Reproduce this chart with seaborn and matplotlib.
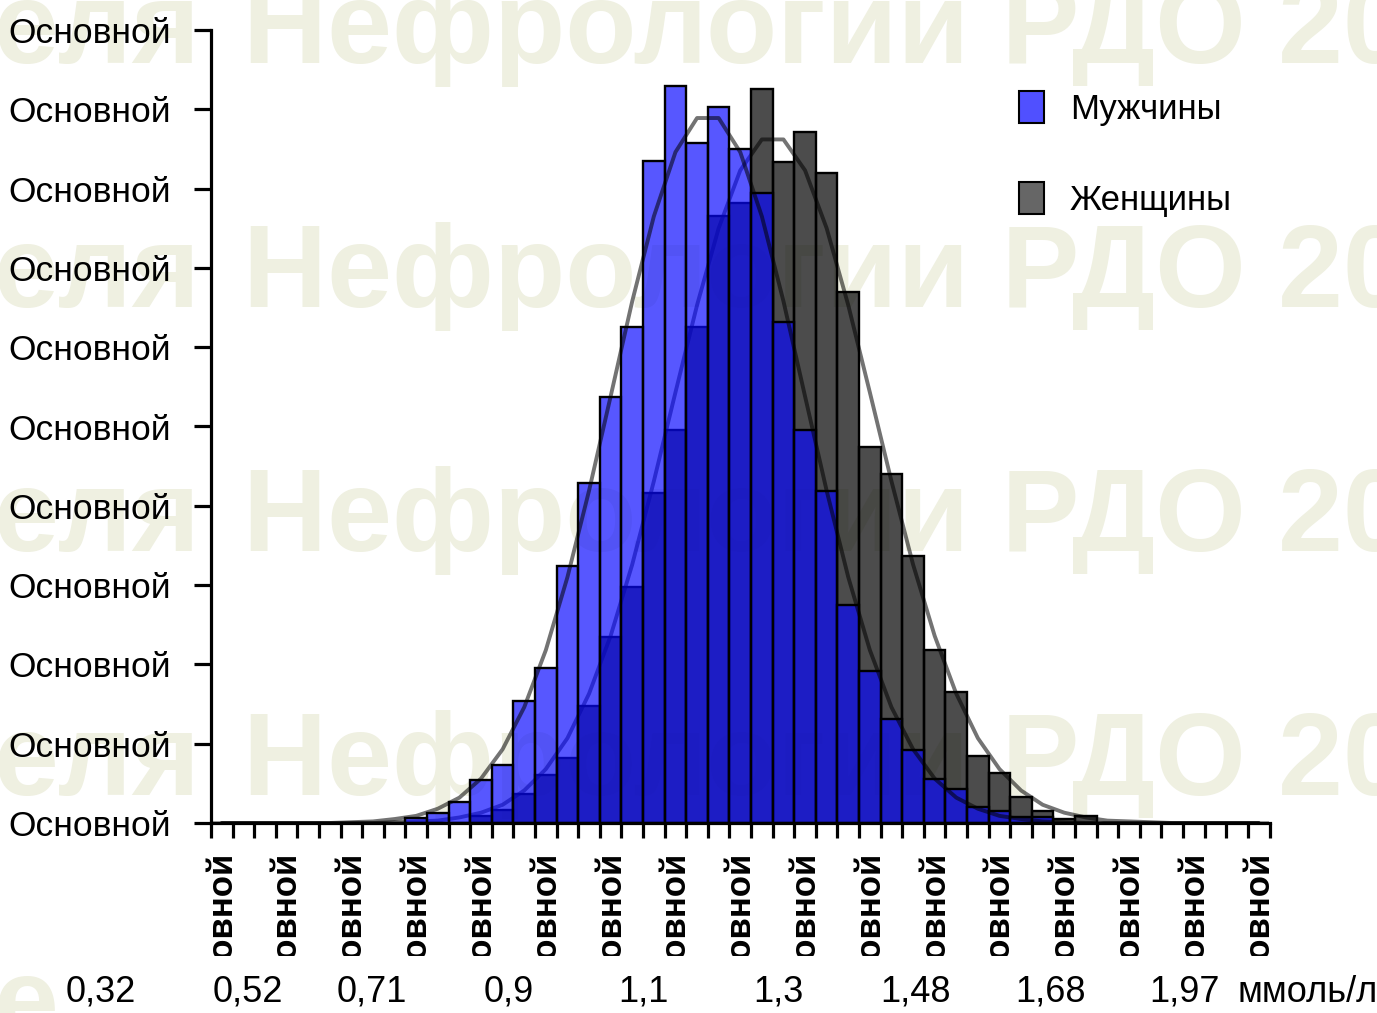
import numpy as np
import pandas as pd
import matplotlib
matplotlib.use('Agg')
import matplotlib.pyplot as plt
from matplotlib.patches import Patch, Rectangle
from matplotlib.transforms import Bbox, TransformedBbox
import seaborn as sns

# ---------- данные (доля пациентов в интервале, %) ----------
bins = list(range(49))
men_pct = [0, 0, 0, 0, 0, 0, 0, 0, 0,
           0.06, 0.12, 0.27, 0.54, 0.73, 1.54, 1.95, 3.24, 4.29, 5.37, 6.25,
           8.35, 9.30, 8.58, 9.03, 8.50, 7.95, 6.32, 4.96, 4.19, 2.75,
           1.92, 1.31, 0.92, 0.56, 0.43, 0.20, 0.15, 0.08, 0.07,
           0, 0, 0, 0, 0, 0, 0, 0, 0, 0]
women_pct = [0, 0, 0, 0, 0, 0, 0, 0, 0, 0, 0, 0,
             0.09, 0.16, 0.37, 0.61, 0.82, 1.47, 2.34, 2.97, 4.16, 4.96,
             6.26, 7.65, 7.82, 9.26, 8.33, 8.71, 8.20, 6.69, 4.74, 4.40,
             3.37, 2.18, 1.65, 0.84, 0.63, 0.33, 0.15, 0.05, 0.09,
             0, 0, 0, 0, 0, 0, 0, 0]
# сглаживающие кривые, снятые в центрах интервалов
men_fit = [0, 0, 0, 0, 0, 0, 0.01, 0.02, 0.05, 0.09, 0.18, 0.32, 0.56, 0.93,
           1.46, 2.18, 3.10, 4.19, 5.38, 6.58, 7.65, 8.46, 8.89, 8.89, 8.46,
           7.65, 6.58, 5.38, 4.19, 3.10, 2.18, 1.46, 0.93, 0.56, 0.32, 0.18,
           0.09, 0.05, 0.02, 0.01, 0, 0, 0, 0, 0, 0, 0, 0, 0]
women_fit = [0, 0, 0, 0, 0, 0, 0, 0, 0.01, 0.02, 0.03, 0.07, 0.13, 0.23,
             0.41, 0.68, 1.07, 1.63, 2.36, 3.26, 4.31, 5.43, 6.53, 7.50, 8.23,
             8.62, 8.62, 8.23, 7.50, 6.53, 5.43, 4.31, 3.26, 2.36, 1.63, 1.07,
             0.68, 0.41, 0.23, 0.13, 0.07, 0.03, 0.02, 0.01, 0, 0, 0, 0, 0]

y_ticks = list(range(11))
y_labels = ['Основной'] * 11
x_label_bins = list(range(0, 49, 3))
x_labels = ['Основной'] * len(x_label_bins)
value_labels = ['0,32', '0,52', '0,71', '0,9', '1,1', '1,3', '1,48', '1,68', '1,97']
unit_label = 'ммоль/л'
legend_labels = ['Мужчины', 'Женщины']
wm_left = 'еля'
wm_right = 'Нефрологии РДО 20'

# ---------- оформление ----------
W, H = 1377, 1013
value_label_px = [101, 248, 372, 509, 643, 778, 915, 1050, 1185]
wm_baselines_px = [63, 307, 551, 795, 1039]

sns.set_theme(style='ticks')
plt.rcParams['font.family'] = ['Liberation Sans', 'DejaVu Sans']

df = pd.DataFrame({'bin': bins, 'men': men_pct, 'women': women_pct,
                   'men_fit': men_fit, 'women_fit': women_fit})

fig = plt.figure(figsize=(W / 100, H / 100), dpi=100)
fig.patch.set_facecolor('white')
ax = fig.add_axes([211 / W, 1 - 823 / H, (1269.5 - 211) / W, (823 - 30) / H])
ax.patch.set_alpha(0)

# водяной знак
wm_color = '#EFF0E1'
for yb in wm_baselines_px:
    fig.text(200 / W, 1 - yb / H, wm_left, ha='right', va='baseline',
             fontsize=84, fontweight='bold', color=wm_color, zorder=-5)
    fig.text(243 / W, 1 - yb / H, wm_right, ha='left', va='baseline',
             fontsize=84, fontweight='bold', color=wm_color, zorder=-5)
# белая подложка под строкой значений
fig.patches.append(Rectangle((55 / W, 0), 1, 1 - 950 / H, transform=fig.transFigure,
                             facecolor='white', edgecolor='none', zorder=-4))

# женщины
sns.barplot(data=df, x='bin', y='women', color='#333333', saturation=1,
            width=1.0, errorbar=None, ax=ax)
n_w = len(ax.patches)
for b in ax.patches:
    b.set_facecolor((0.05, 0.05, 0.05, 0.74))
    b.set_edgecolor('black')
    b.set_linewidth(1.7)
    b.set_zorder(2)
sns.lineplot(data=df, x='bin', y='women_fit', color='black', alpha=0.55,
             linewidth=2.8, ax=ax, zorder=3)

# мужчины
sns.barplot(data=df, x='bin', y='men', color='#3333ff', saturation=1,
            width=1.0, errorbar=None, ax=ax)
for b in ax.patches[n_w:]:
    b.set_facecolor((0.03, 0.03, 1.0, 0.68))
    b.set_edgecolor('black')
    b.set_linewidth(1.7)
    b.set_zorder(4)
sns.lineplot(data=df, x='bin', y='men_fit', color='black', alpha=0.55,
             linewidth=2.8, ax=ax, zorder=5)

# оси
ax.set_xlim(-0.5, 48.5)
ax.set_ylim(0, 10)
ax.set_xlabel('')
ax.set_ylabel('')
sns.despine(ax=ax)
for s in ['left', 'bottom']:
    ax.spines[s].set_linewidth(2.3)
    ax.spines[s].set_color('black')
    ax.spines[s].set_zorder(6)

ax.set_yticks(y_ticks, y_labels)
ax.tick_params(axis='y', length=12, width=2.3, color='black', pad=17,
               labelsize=25.5, labelcolor='black')

ax.set_xticks(x_label_bins, x_labels, rotation=90, va='top', ha='center',
              fontweight='bold', fontsize=25)
ax.set_xticks(np.arange(-0.5, 49, 1), minor=True)
ax.tick_params(axis='x', which='major', length=0, pad=21, labelcolor='black')
ax.tick_params(axis='x', which='minor', length=11, width=2.3, color='black')

clip = TransformedBbox(Bbox.from_extents(0, 1 - 956 / H, 1, 1 - 840 / H),
                       fig.transFigure)
for t in ax.get_xticklabels():
    t.set_clip_box(clip)
    t.set_clip_on(True)

# подписи значений под осью
for xp, lab in zip(value_label_px, value_labels):
    fig.text(xp / W, 1 - 992 / H, lab, ha='center', va='center',
             fontsize=26, color='black')
fig.text(1238 / W, 1 - 992 / H, unit_label, ha='left', va='center',
         fontsize=26, color='black')

# легенда
handles = [Patch(facecolor='#5050FF', edgecolor='black', linewidth=1.5),
           Patch(facecolor='#666666', edgecolor='black', linewidth=1.5)]
ax.legend(handles, legend_labels, loc='upper left',
          bbox_to_anchor=(1019 / W, 1 - 91 / H), bbox_transform=fig.transFigure,
          frameon=False, fontsize=25, handlelength=0.72, handleheight=1.05,
          handletextpad=0.75, labelspacing=1.62, borderpad=0, borderaxespad=0,
          labelcolor='black')

plt.savefig('out.png', dpi=100)
